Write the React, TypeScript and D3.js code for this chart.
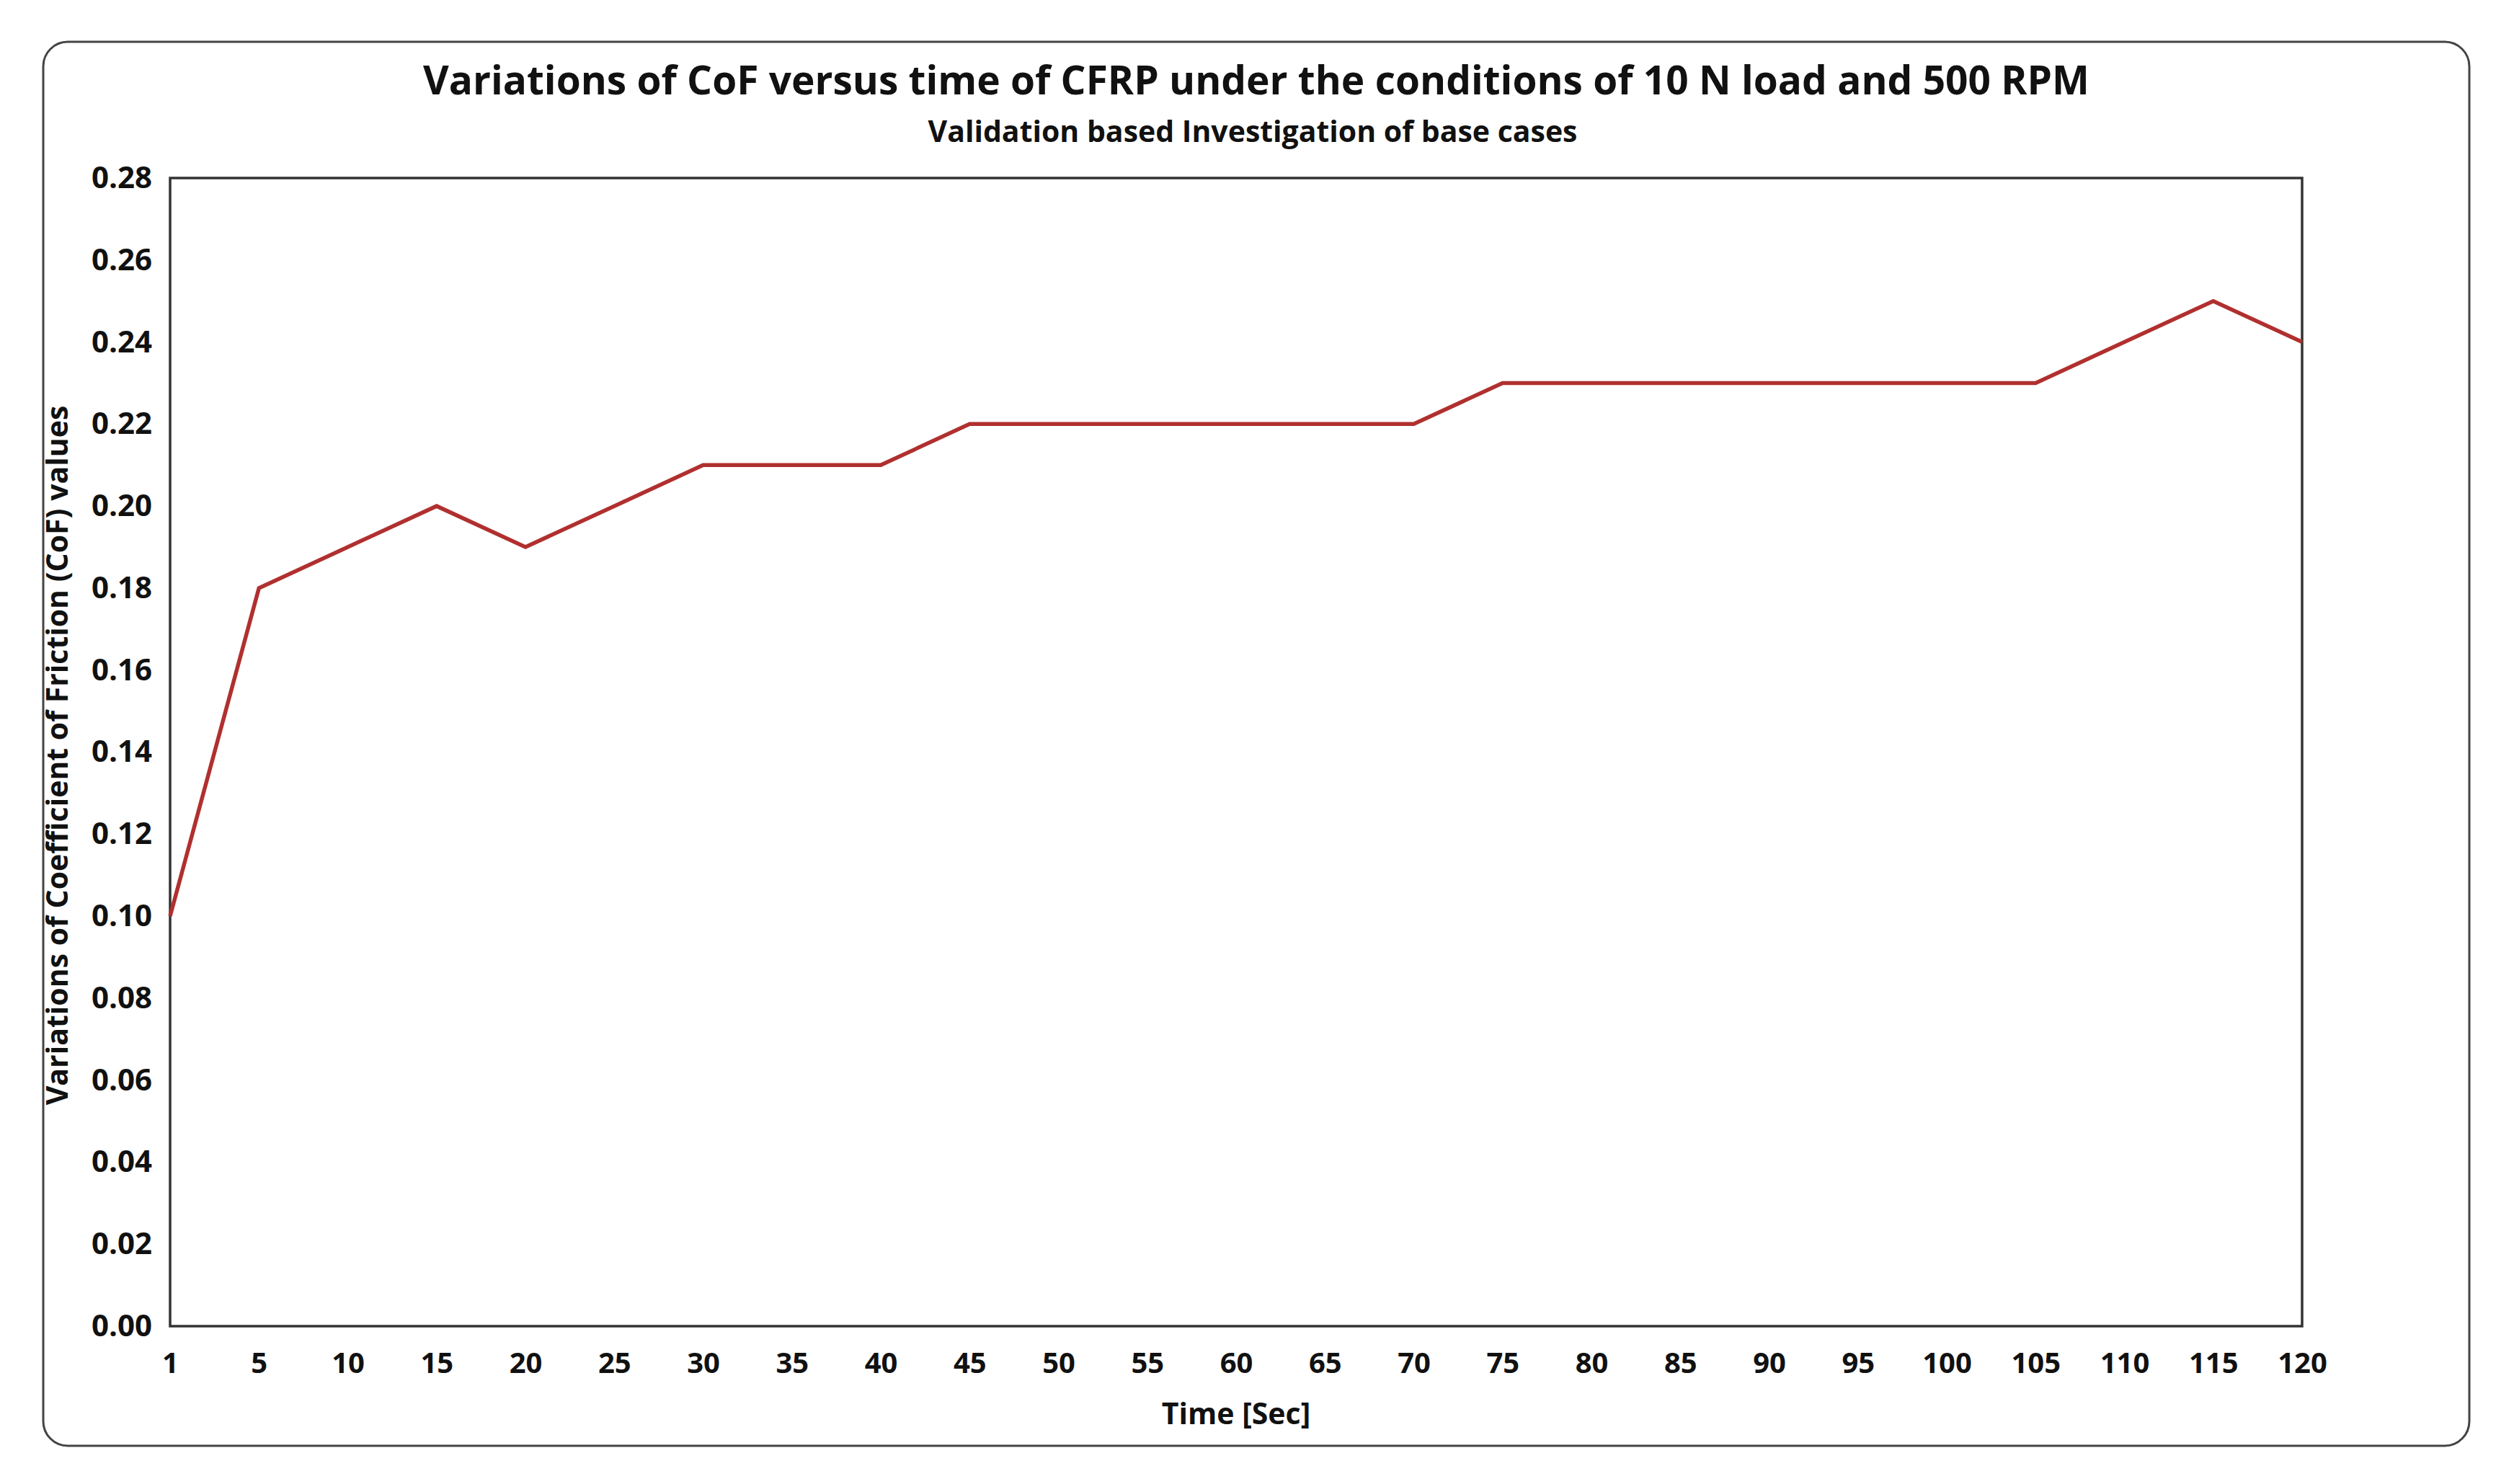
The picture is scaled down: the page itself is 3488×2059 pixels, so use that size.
import React, { useEffect, useRef } from 'react';
import * as d3 from 'd3';

const times: string[] = [
    '1', '5', '10', '15', '20', '25', '30', '35', '40', '45', '50', '55', '60',
    '65', '70', '75', '80', '85', '90', '95', '100', '105', '110', '115', '120',
];

const cofValues: number[] = [
    0.10, 0.18, 0.19, 0.20, 0.19, 0.20, 0.21, 0.21, 0.21, 0.22, 0.22, 0.22, 0.22,
    0.22, 0.22, 0.23, 0.23, 0.23, 0.23, 0.23, 0.23, 0.23, 0.24, 0.25, 0.24,
];

const yTicks: number[] = [0, 0.02, 0.04, 0.06, 0.08, 0.1, 0.12, 0.14, 0.16, 0.18, 0.2, 0.22, 0.24, 0.26, 0.28];

const title = 'Variations of CoF versus time of CFRP under the conditions of 10 N load and 500 RPM';
const subtitle = 'Validation based Investigation of base cases';
const xTitle = 'Time [Sec]';
const yTitle = 'Variations of Coefficient of Friction (CoF) values';

const W = 3488;
const H = 2059;
const FONT = '"Open Sans", "Noto Sans", sans-serif';

const App: React.FC = () => {
    const svgRef = useRef<SVGSVGElement | null>(null);

    useEffect(() => {
        if (!svgRef.current) return;
        const svg = d3.select(svgRef.current);
        svg.selectAll('*').remove();

        const margin = { left: 236, right: W - 3194, top: 247, bottom: H - 1840 };
        const innerW = W - margin.left - margin.right;
        const innerH = H - margin.top - margin.bottom;

        // outer rounded frame
        svg.append('rect')
            .attr('x', 60).attr('y', 58)
            .attr('width', 3426 - 60).attr('height', 2006 - 58)
            .attr('rx', 34).attr('ry', 34)
            .attr('fill', '#fff')
            .attr('stroke', '#444')
            .attr('stroke-width', 3);

        svg.append('text')
            .attr('x', 1743).attr('y', 131)
            .attr('text-anchor', 'middle')
            .attr('font-family', FONT)
            .attr('font-weight', 700)
            .attr('font-size', 55)
            .attr('fill', '#111')
            .text(title);

        svg.append('text')
            .attr('x', 1738).attr('y', 197)
            .attr('text-anchor', 'middle')
            .attr('font-family', FONT)
            .attr('font-weight', 700)
            .attr('font-size', 41)
            .attr('fill', '#111')
            .text(subtitle);

        const g = svg.append('g').attr('transform', `translate(${margin.left},${margin.top})`);

        const x = d3.scalePoint<string>().domain(times).range([0, innerW]).padding(0);
        const y = d3.scaleLinear().domain([0, 0.28]).range([innerH, 0]);

        // y axis labels
        const yAxis = d3.axisLeft(y)
            .tickValues(yTicks)
            .tickSize(0)
            .tickPadding(25)
            .tickFormat((d) => d3.format('.2f')(d as number));
        const yG = g.append('g').call(yAxis);
        yG.select('.domain').remove();
        yG.selectAll('text')
            .attr('font-family', FONT)
            .attr('font-weight', 700)
            .attr('font-size', 42)
            .attr('fill', '#111');

        // x axis labels
        const xAxis = d3.axisBottom(x).tickSize(0).tickPadding(37);
        const xG = g.append('g').attr('transform', `translate(0,${innerH})`).call(xAxis);
        xG.select('.domain').remove();
        xG.selectAll('text')
            .attr('font-family', FONT)
            .attr('font-weight', 700)
            .attr('font-size', 40)
            .attr('fill', '#111');

        // plot frame
        g.append('rect')
            .attr('width', innerW).attr('height', innerH)
            .attr('fill', 'none')
            .attr('stroke', '#333')
            .attr('stroke-width', 3.5);

        const line = d3.line<number>()
            .x((_, i) => x(times[i]) as number)
            .y((d) => y(d));

        g.append('path')
            .datum(cofValues)
            .attr('fill', 'none')
            .attr('stroke', '#B0302F')
            .attr('stroke-width', 5.5)
            .attr('stroke-linejoin', 'miter')
            .attr('d', line);

        svg.append('text')
            .attr('x', 1715).attr('y', 1976)
            .attr('text-anchor', 'middle')
            .attr('font-family', FONT)
            .attr('font-weight', 700)
            .attr('font-size', 41)
            .attr('fill', '#111')
            .text(xTitle);

        svg.append('text')
            .attr('transform', `translate(94,1048) rotate(-90)`)
            .attr('text-anchor', 'middle')
            .attr('font-family', FONT)
            .attr('font-weight', 700)
            .attr('font-size', 41)
            .attr('fill', '#111')
            .text(yTitle);
    }, []);

    return (
        <svg
            ref={svgRef}
            width={W}
            height={H}
            style={{ position: 'absolute', left: 0, top: 0, background: '#fff' }}
        ></svg>
    );
};

export default App;
